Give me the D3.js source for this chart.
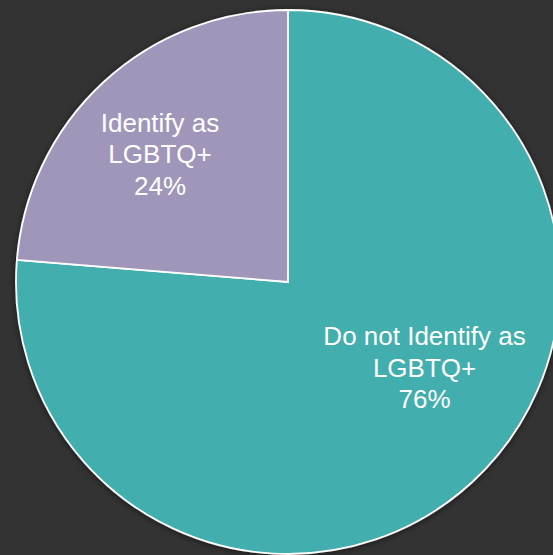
<!DOCTYPE html>
<html>
<head>
<meta charset="utf-8">
<script src="https://cdn.jsdelivr.net/npm/d3@7"></script>
<style>
  html, body { margin: 0; padding: 0; background: #333333; }
  svg { display: block; }
</style>
</head>
<body>
<script>
// Data
const categories = ["Do not Identify as LGBTQ+", "Identify as LGBTQ+"];
const labelLines = [["Do not Identify as", "LGBTQ+"], ["Identify as", "LGBTQ+"]];
const values = [76.3, 23.7];
const percentLabels = ["76%", "24%"];
const colors = ["#42AEAE", "#A096B9"];

const W = 553, H = 555;
const cx = 288, cy = 282, R = 272;

const svg = d3.select("body").append("svg")
  .attr("width", W).attr("height", H);

svg.append("rect").attr("width", W).attr("height", H).attr("fill", "#333333");

const defs = svg.append("defs");
const f = defs.append("filter").attr("id", "shadow")
  .attr("x", "-10%").attr("y", "-10%").attr("width", "120%").attr("height", "120%");
f.append("feDropShadow").attr("dx", 0).attr("dy", 1).attr("stdDeviation", 3)
  .attr("flood-color", "#000").attr("flood-opacity", 0.55);

const pie = d3.pie().sort(null).value(d => d)(values);
const arc = d3.arc().innerRadius(0).outerRadius(R);

const g = svg.append("g").attr("transform", `translate(${cx},${cy})`);

g.append("g").attr("filter", "url(#shadow)")
  .selectAll("path").data(pie).join("path")
  .attr("d", arc)
  .attr("fill", (d, i) => colors[i])
  .attr("stroke", "#ffffff")
  .attr("stroke-width", 1.8)
  .attr("stroke-linejoin", "miter");

// label placement (polar, in px from centre)
function labelPos(d, i) {
  const a = (i === 0 ? 122 : 315) * Math.PI / 180;
  const r = i === 0 ? 161 : 181;
  return [r * Math.sin(a), -r * Math.cos(a)];
}

const fs = 26, lh = 31.5;
const labels = g.selectAll("text.lbl").data(pie).join("text")
  .attr("class", "lbl")
  .attr("text-anchor", "middle")
  .attr("fill", "#ffffff")
  .attr("font-family", "'Liberation Sans', Arial, Helvetica, sans-serif")
  .attr("font-size", fs)
  .attr("transform", (d, i) => {
    const [x, y] = labelPos(d, i);
    return `translate(${x},${y})`;
  });

labels.each(function(d, i) {
  const lines = labelLines[i].concat([percentLabels[i]]);
  const t = d3.select(this);
  const n = lines.length;
  lines.forEach((ln, k) => {
    t.append("tspan")
      .attr("x", 0)
      .attr("y", (k - (n - 1) / 2) * lh + fs * 0.36)
      .text(ln);
  });
});
</script>
</body>
</html>
